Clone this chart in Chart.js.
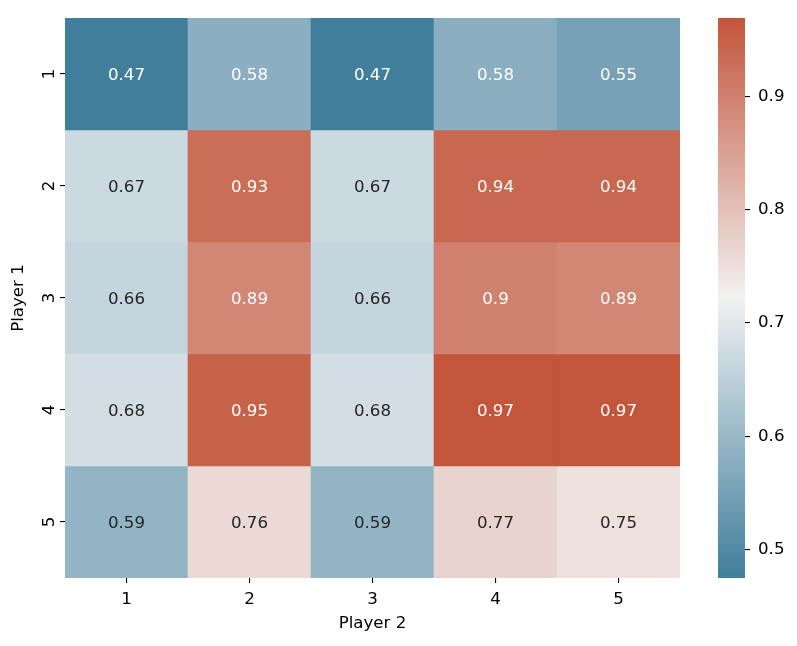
<!DOCTYPE html>
<html>
<head>
<meta charset="UTF-8">
<title>Player 1 vs Player 2</title>
<script src="https://cdn.jsdelivr.net/npm/chart.js"></script>
<style>
  body { margin: 0; background: #fff; }
  #wrap { position: relative; width: 797px; height: 646px; }
  #main { position: absolute; left: 0; top: 0; }
  #cbar { position: absolute; left: 700px; top: 0; }
</style>
</head>
<body>
<div id="wrap">
  <canvas id="main" width="700" height="646"></canvas>
  <canvas id="cbar" width="97" height="646"></canvas>
</div>

<script>
// data
var xLabels = ['1', '2', '3', '4', '5'];   // Player 2
var yLabels = ['1', '2', '3', '4', '5'];   // Player 1
var row1 = [0.47, 0.58, 0.47, 0.58, 0.55];
var row2 = [0.67, 0.93, 0.67, 0.94, 0.94];
var row3 = [0.66, 0.89, 0.66, 0.9, 0.89];
var row4 = [0.68, 0.95, 0.68, 0.97, 0.97];
var row5 = [0.59, 0.76, 0.59, 0.77, 0.75];
var rows = [row1, row2, row3, row4, row5];
var cbarMin = 0.4747;
var cbarMax = 0.9695;
var cbarTicks = [0.5, 0.6, 0.7, 0.8, 0.9];

var FONT = 'DejaVu Sans';
var FS = 16.67;

// husl -> rgb (to build the seaborn diverging_palette(230, 20) colormap)
var M = [
  [3.240969941904521, -1.537383177570093, -0.498610760293],
  [-0.96924363628087, 1.87596750150772, 0.041555057407175],
  [0.055630079696993, -0.20397695888897, 1.056971514242878]
];
var refU = 0.19783000664283, refV = 0.46831999493879;
var kappa = 903.2962962, epsilon = 0.0088564516;

function getBounds(L) {
  var sub1 = Math.pow(L + 16, 3) / 1560896;
  var sub2 = sub1 > epsilon ? sub1 : L / kappa;
  var out = [];
  M.forEach(function (m) {
    [0, 1].forEach(function (t) {
      var top1 = (284517 * m[0] - 94839 * m[2]) * sub2;
      var top2 = (838422 * m[2] + 769860 * m[1] + 731718 * m[0]) * L * sub2 - 769860 * t * L;
      var bottom = (632260 * m[2] - 126452 * m[1]) * sub2 + 126452 * t;
      out.push([top1 / bottom, top2 / bottom]);
    });
  });
  return out;
}
function maxChroma(L, H) {
  var hr = H / 360 * 2 * Math.PI;
  var min = Infinity;
  getBounds(L).forEach(function (b) {
    var len = b[1] / (Math.sin(hr) - b[0] * Math.cos(hr));
    if (len >= 0) min = Math.min(min, len);
  });
  return min;
}
function husl(h, s, l) {
  var C = maxChroma(l, h) / 100 * s;
  var hr = h / 360 * 2 * Math.PI;
  var U = Math.cos(hr) * C, V = Math.sin(hr) * C;
  var varU = U / (13 * l) + refU, varV = V / (13 * l) + refV;
  var Y = l <= 8 ? l / kappa : Math.pow((l + 16) / 116, 3);
  var X = -(9 * Y * varU) / ((varU - 4) * varV - varU * varV);
  var Z = (9 * Y - 15 * varV * Y - varV * X) / (3 * varV);
  return M.map(function (r) {
    var c = r[0] * X + r[1] * Y + r[2] * Z;
    var v = c <= 0.0031308 ? 12.92 * c : 1.055 * Math.pow(c, 1 / 2.4) - 0.055;
    return Math.min(1, Math.max(0, v));
  });
}

var stops = [
  [0, husl(230, 75, 50)],
  [127 / 256, husl(230, 11.25, 95)],
  [0.5, [0.95, 0.95, 0.95]],
  [129 / 256, husl(20, 11.25, 95)],
  [1, husl(20, 75, 50)]
];

function cmap(t) {
  t = Math.min(1, Math.max(0, t));
  for (var i = 1; i < stops.length; i++) {
    if (t <= stops[i][0]) {
      var a = stops[i - 1], b = stops[i];
      var f = (t - a[0]) / (b[0] - a[0]);
      return a[1].map(function (c, k) { return c + (b[1][k] - c) * f; });
    }
  }
  return stops[stops.length - 1][1];
}
function toCss(rgb) {
  return 'rgb(' + rgb.map(function (c) { return Math.round(c * 255); }).join(',') + ')';
}
function colorFor(v) {
  return cmap((v - cbarMin) / (cbarMax - cbarMin));
}
function textColorFor(v) {
  var rgb = colorFor(v).map(function (c) {
    return c <= 0.03928 ? c / 12.92 : Math.pow((c + 0.055) / 1.055, 2.4);
  });
  var lum = 0.2126 * rgb[0] + 0.7152 * rgb[1] + 0.0722 * rgb[2];
  return lum > 0.408 ? '#262626' : '#ffffff';
}

// annotations inside cells
var annotate = {
  id: 'annotate',
  afterDatasetsDraw: function (chart) {
    var ctx = chart.ctx;
    ctx.save();
    ctx.font = FS + 'px "' + FONT + '"';
    ctx.textAlign = 'center';
    ctx.textBaseline = 'middle';
    rows.forEach(function (row, i) {
      var meta = chart.getDatasetMeta(i);
      row.forEach(function (v, j) {
        var el = meta.data[j];
        ctx.fillStyle = textColorFor(v);
        ctx.fillText(String(Number(v.toPrecision(2))), el.x, (el.y + el.base) / 2 + 1.5);
      });
    });
    ctx.restore();
  }
};

var datasets = rows.map(function (row, i) {
  return {
    data: row.map(function () { return [i + 0.5, i + 1.5]; }),
    backgroundColor: row.map(function (v) { return toCss(colorFor(v)); }),
    borderWidth: 0,
    grouped: false,
    barPercentage: 1,
    categoryPercentage: 1
  };
});

var tickFont = { family: FONT, size: FS };

new Chart(document.getElementById('main'), {
  type: 'bar',
  data: { labels: xLabels, datasets: datasets },
  options: {
    responsive: false,
    animation: false,
    layout: { padding: { left: 0, top: 18, right: 20, bottom: 0 } },
    plugins: { legend: { display: false }, tooltip: { enabled: false } },
    scales: {
      x: {
        grid: { drawOnChartArea: false, drawTicks: true, tickLength: 5, color: '#000', lineWidth: 1.1, offset: false },
        border: { display: false },
        ticks: { color: '#000', font: tickFont, padding: 7 },
        title: { display: true, text: 'Player 2', color: '#000', font: tickFont, padding: { top: 0, bottom: 12 } },
        afterFit: function (s) { s.height = 68; }
      },
      y: {
        min: 0.5,
        max: 5.5,
        reverse: true,
        afterBuildTicks: function (s) {
          s.ticks = yLabels.map(function (_, i) { return { value: i + 1 }; });
        },
        grid: { drawOnChartArea: false, drawTicks: true, tickLength: 5, color: '#000', lineWidth: 1.1 },
        border: { display: false },
        ticks: {
          color: '#000', font: tickFont, padding: 5, minRotation: 90, maxRotation: 90, crossAlign: 'center',
          callback: function (v) { return yLabels[v - 1]; }
        },
        title: { display: true, text: 'Player 1', color: '#000', font: tickFont, padding: { top: 9, bottom: 0 } },
        afterFit: function (s) { s.width = 65; }
      }
    }
  },
  plugins: [annotate]
});

// colorbar
new Chart(document.getElementById('cbar'), {
  type: 'bar',
  data: {
    labels: [''],
    datasets: [{
      data: [[cbarMin, cbarMax]],
      borderWidth: 0,
      barPercentage: 1,
      categoryPercentage: 1,
      backgroundColor: function (c) {
        var area = c.chart.chartArea;
        if (!area) return '#fff';
        var g = c.chart.ctx.createLinearGradient(0, area.bottom, 0, area.top);
        stops.forEach(function (s) { g.addColorStop(s[0], toCss(s[1])); });
        return g;
      }
    }]
  },
  options: {
    responsive: false,
    animation: false,
    layout: { padding: { left: 18, top: 18, right: 0, bottom: 68 } },
    plugins: { legend: { display: false }, tooltip: { enabled: false } },
    scales: {
      x: { display: false },
      y: {
        position: 'right',
        min: cbarMin,
        max: cbarMax,
        afterBuildTicks: function (s) {
          s.ticks = cbarTicks.map(function (v) { return { value: v }; });
        },
        grid: { drawOnChartArea: false, drawTicks: true, tickLength: 5, color: '#000', lineWidth: 1.1 },
        border: { display: false },
        ticks: { color: '#000', font: tickFont, padding: 8, callback: function (v) { return v.toFixed(1); } },
        afterFit: function (s) { s.width = 52; }
      }
    }
  }
});
</script>
</body>
</html>
